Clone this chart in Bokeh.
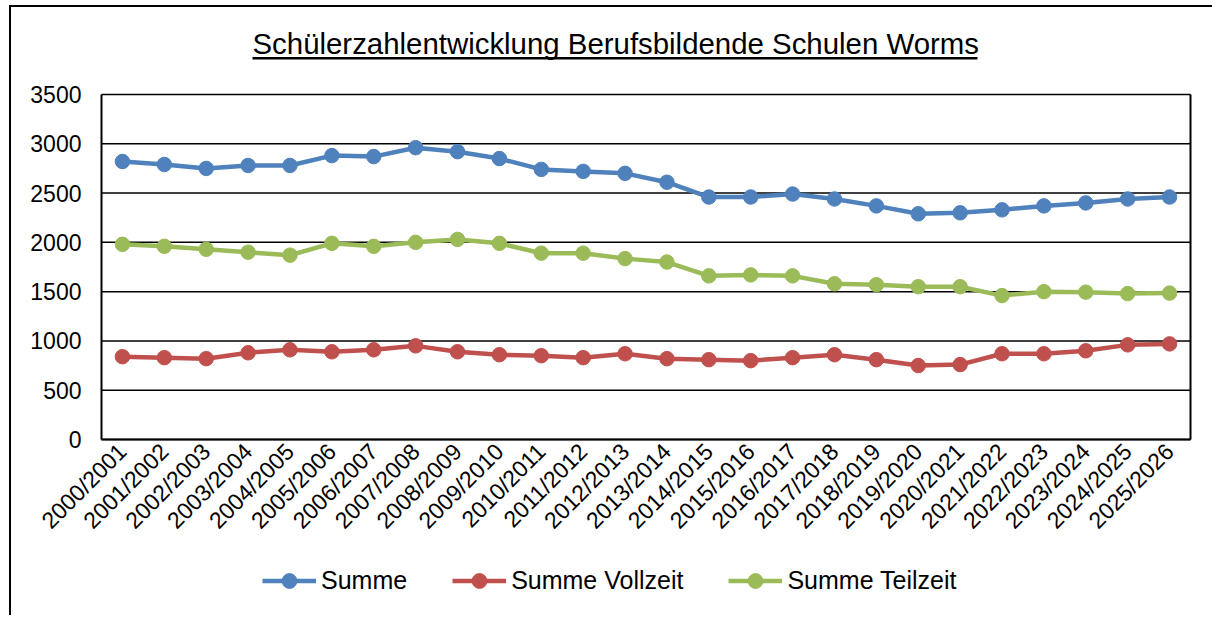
import math
from bokeh.plotting import figure
from bokeh.models import (Legend, LegendItem, FixedTicker, Label, BoxAnnotation, LinearAxis, Range1d)
from bokeh.embed import file_html
from bokeh.resources import INLINE

years = ["2000/2001", "2001/2002", "2002/2003", "2003/2004", "2004/2005", "2005/2006",
         "2006/2007", "2007/2008", "2008/2009", "2009/2010", "2010/2011", "2011/2012",
         "2012/2013", "2013/2014", "2014/2015", "2015/2016", "2016/2017", "2017/2018",
         "2018/2019", "2019/2020", "2020/2021", "2021/2022", "2022/2023", "2023/2024",
         "2024/2025", "2025/2026"]

summe = [2820, 2790, 2750, 2780, 2780, 2880, 2870, 2960, 2920, 2850, 2740, 2720, 2700,
         2610, 2460, 2460, 2490, 2440, 2370, 2290, 2300, 2330, 2370, 2400, 2440, 2460]
vollzeit = [840, 830, 820, 880, 910, 890, 910, 950, 890, 860, 850, 830, 870,
            820, 810, 800, 830, 860, 810, 750, 760, 870, 870, 900, 960, 970]
teilzeit = [1980, 1960, 1930, 1900, 1870, 1990, 1960, 2000, 2030, 1990, 1890, 1890, 1835,
            1800, 1660, 1670, 1660, 1580, 1570, 1550, 1550, 1460, 1500, 1495, 1480, 1485]

y_ticks = [0, 500, 1000, 1500, 2000, 2500, 3000, 3500]
title_text = "Schülerzahlentwicklung Berufsbildende Schulen Worms"
series_names = ["Summe", "Summe Vollzeit", "Summe Teilzeit"]
colors = ["#4F81BD", "#C0504D", "#9BBB59"]

FONT = "Liberation Sans"

idx = list(range(len(years)))
x_lo, x_hi = idx[0] - 0.5, idx[-1] + 0.5     # category band edges = plot area edges

# layout geometry (canvas pixels)
W, H = 1203, 610
PLOT_LEFT, PLOT_RIGHT = 90, 1179
PLOT_TOP, PLOT_BOTTOM = 87, 432
px_per_cat = (PLOT_RIGHT - PLOT_LEFT) / (x_hi - x_lo)
x_start = x_lo - PLOT_LEFT / px_per_cat
x_end = x_start + W / px_per_cat
px_per_unit = (PLOT_BOTTOM - PLOT_TOP) / y_ticks[-1]
y_end = y_ticks[-1] + PLOT_TOP / px_per_unit
y_start = -(H - PLOT_BOTTOM) / px_per_unit

p = figure(x_range=Range1d(x_start, x_end), y_range=Range1d(y_start, y_end),
           width=W, height=H, output_backend="svg", toolbar_location=None,
           min_border_left=0, min_border_right=0, min_border_top=0, min_border_bottom=0)
p.title.visible = False
p.margin = (5, 0, 0, 9)
p.styles = {"border-left": "2px solid black", "border-top": "2px solid black"}

p.background_fill_color = "white"
p.border_fill_color = "white"
p.outline_line_color = None
p.xgrid.visible = False
p.ygrid.visible = False

# horizontal gridlines limited to the plot area
p.segment(x0=[x_lo] * len(y_ticks), x1=[x_hi] * len(y_ticks), y0=y_ticks, y1=y_ticks,
          line_color="black", line_width=1.5)

p.xaxis.ticker = FixedTicker(ticks=idx)
p.xaxis.major_label_overrides = {i: lab for i, lab in zip(idx, years)}
p.xaxis.fixed_location = 0
p.xaxis.bounds = (x_lo, x_hi)

p.yaxis.ticker = FixedTicker(ticks=y_ticks)
p.yaxis.bounds = (y_ticks[0], y_ticks[-1])
p.yaxis.fixed_location = x_lo

for ax in (p.xaxis[0], p.yaxis[0]):
    ax.axis_line_color = "black"
    ax.axis_line_width = 2
    ax.major_tick_line_color = None
    ax.minor_tick_line_color = None
    ax.major_tick_in = 0
    ax.major_tick_out = 0
    ax.major_label_text_font = FONT
    ax.major_label_text_font_size = "23px"
    ax.major_label_text_color = "black"

p.yaxis.major_label_standoff = 20
p.xaxis.major_label_orientation = math.pi / 4
p.xaxis.major_label_standoff = 8

# right border of the plot area
right_axis = LinearAxis(ticker=FixedTicker(ticks=[]), bounds=(y_ticks[0], y_ticks[-1]),
                        fixed_location=x_hi,
                        axis_line_color="black", axis_line_width=2,
                        major_tick_line_color=None, minor_tick_line_color=None)
p.add_layout(right_axis, "right")

items = []
for name, vals, col in zip(series_names, [summe, vollzeit, teilzeit], colors):
    ln = p.line(idx, vals, line_color=col, line_width=4.5)
    sc = p.scatter(idx, vals, size=14.5, fill_color=col, line_color=col)
    items.append(LegendItem(label=name, renderers=[ln, sc]))

legend = Legend(items=items, orientation="horizontal", location=(251, 18),
                border_line_color=None, background_fill_alpha=0,
                glyph_width=54, glyph_height=37, label_standoff=5, spacing=45,
                padding=0, margin=0,
                label_text_font=FONT, label_text_font_size="25px", label_text_color="black")
p.add_layout(legend)

# title + underline (screen units relative to the frame: x from left, y from bottom)
p.add_layout(Label(x=241, y=H - 36, x_units="screen", y_units="screen",
                   text=title_text, text_align="left", text_baseline="alphabetic",
                   text_font=FONT, text_font_size="29.4px", text_color="black"))
p.add_layout(BoxAnnotation(left=241, right=966, top=H - 49.5, bottom=H - 52,
                           left_units="screen", right_units="screen",
                           top_units="screen", bottom_units="screen",
                           fill_color="black", fill_alpha=1, line_color=None))

open("out.html", "w").write(file_html(p, INLINE))
